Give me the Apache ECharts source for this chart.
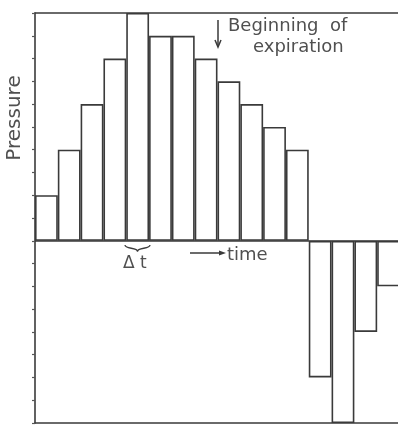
<!DOCTYPE html>
<html><head><meta charset="utf-8">
<script src="https://cdn.jsdelivr.net/npm/echarts@6/dist/echarts.min.js"></script>
<style>html,body{margin:0;padding:0;background:#fff;overflow:hidden}#c{width:398px;height:426px}</style>
</head><body><div id="c"></div>
<script>
// ---- data ----
const categories = ['1','2','3','4','5','6','7','8','9','10','11','12','13','14','15','16'];
const pressure = [2, 4, 6, 8, 10, 9, 9, 8, 7, 6, 5, 4, -6, -8, -4, -2];
const yMin = -8;
const yMax = 10;
const yInterval = 1;
const yLabel = 'Pressure';
const xLabel = 'time';
const stepLabel = 'Δ t';
const noteLine1 = 'Beginning  of';
const noteLine2 = 'expiration';

const ink = '#3a3a3a';
const textInk = '#505050';
const font = '"DejaVu Sans", sans-serif';

const hiddenAxisParts = {axisTick: {show: false}, axisLabel: {show: false}, splitLine: {show: false}};

const chart = echarts.init(document.getElementById('c'), null, {renderer: 'canvas'});
chart.setOption({
  backgroundColor: '#ffffff',
  animation: false,
  grid: {left: 35, top: 13, width: 365, height: 410, show: false, outerBoundsMode: 'none', containLabel: false},
  xAxis: [
    Object.assign({type: 'category', data: categories, position: 'bottom',
      axisLine: {show: true, onZero: false, lineStyle: {color: ink, width: 1.6}}}, hiddenAxisParts),
    Object.assign({type: 'category', data: categories, position: 'top',
      axisLine: {show: true, onZero: false, lineStyle: {color: ink, width: 1.6}}}, hiddenAxisParts)
  ],
  yAxis: {
    type: 'value', min: yMin, max: yMax, interval: yInterval,
    axisLine: {show: true, lineStyle: {color: ink, width: 1.6}},
    axisTick: {show: true, inside: false, length: 3, lineStyle: {color: '#555', width: 1.2}},
    axisLabel: {show: false}, splitLine: {show: false}
  },
  series: [{
    type: 'bar', data: pressure, barCategoryGap: '0%',
    itemStyle: {color: '#ffffff', borderColor: ink, borderWidth: 1.6},
    z: 2,
    markLine: {
      silent: true, symbol: 'none', label: {show: false},
      lineStyle: {color: ink, width: 1.6, type: 'solid'},
      data: [{yAxis: 0}]
    }
  }],
  graphic: [
    {type: 'text', x: 15, y: 118, rotation: Math.PI/2,
     style: {text: yLabel, font: '20px ' + font, fill: textInk, align: 'center', verticalAlign: 'middle'}},
    {type: 'text', x: 228, y: 26,
     style: {text: noteLine1, font: '18px ' + font, fill: textInk, align: 'left', verticalAlign: 'middle'}},
    {type: 'text', x: 253, y: 47,
     style: {text: noteLine2, font: '18px ' + font, fill: textInk, align: 'left', verticalAlign: 'middle'}},
    {type: 'line', shape: {x1: 218, y1: 20, x2: 218, y2: 46}, style: {stroke: ink, lineWidth: 1.5}},
    {type: 'polyline', shape: {points: [[215, 40], [218, 47], [221, 40]]}, style: {stroke: ink, lineWidth: 1.5, fill: null}},
    {type: 'text', x: 227, y: 255,
     style: {text: xLabel, font: '18px ' + font, fill: textInk, align: 'left', verticalAlign: 'middle'}},
    {type: 'line', shape: {x1: 190, y1: 253, x2: 221, y2: 253}, style: {stroke: ink, lineWidth: 1.5}},
    {type: 'polygon', shape: {points: [[219, 250.5], [226, 253], [219, 255.5]]}, style: {fill: ink}},
    {type: 'text', x: 123, y: 264,
     style: {text: stepLabel, font: '17px ' + font, fill: textInk, align: 'left', verticalAlign: 'middle'}},
    {type: 'bezierCurve', shape: {x1: 125, y1: 245, cpx1: 125, cpy1: 249.5, cpx2: 137.5, cpy2: 247, x2: 137.5, y2: 251.5},
     style: {stroke: ink, lineWidth: 1.3, fill: null}},
    {type: 'bezierCurve', shape: {x1: 150, y1: 245, cpx1: 150, cpy1: 249.5, cpx2: 137.5, cpy2: 247, x2: 137.5, y2: 251.5},
     style: {stroke: ink, lineWidth: 1.3, fill: null}}
  ]
});
</script></body></html>
